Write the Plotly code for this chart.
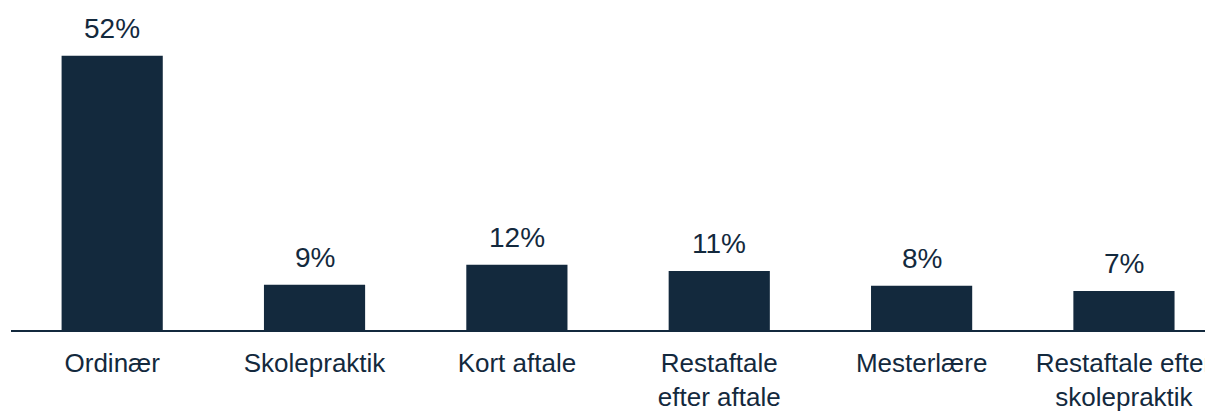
import plotly.graph_objects as go

categories = ["Ordinær", "Skolepraktik", "Kort aftale", "Restaftale<br>efter aftale",
              "Mesterlære", "Restaftale efter<br>skolepraktik"]
values = [52.0, 8.6, 12.4, 11.2, 8.4, 7.4]
labels = ["52%", "9%", "12%", "11%", "8%", "7%"]

navy = "#13293d"
font_family = "Liberation Sans, Arial, sans-serif"

fig = go.Figure()
fig.add_trace(go.Bar(
    x=list(range(len(categories))), y=values, width=0.5,
    marker=dict(color=navy, line=dict(width=0)),
    hoverinfo="skip",
))

for i, (v, t) in enumerate(zip(values, labels)):
    fig.add_annotation(x=i, y=v, text=t, showarrow=False, yanchor="bottom",
                       yshift=10, font=dict(family=font_family, size=28, color=navy))

fig.update_layout(
    width=1205, height=404,
    margin=dict(l=3, r=0, t=2, b=74),
    plot_bgcolor="white", paper_bgcolor="white",
    showlegend=False,
    font=dict(family=font_family, color=navy),
    xaxis=dict(
        tickmode="array", tickvals=list(range(len(categories))), ticktext=categories,
        range=[-0.5, 5.44], showgrid=False, zeroline=False,
        showline=True, linecolor=navy, linewidth=2,
        ticks="", tickfont=dict(family=font_family, size=26, color=navy),
        ticklabelstandoff=9,
    ),
    yaxis=dict(range=[0, 60.7], visible=False, showgrid=False, zeroline=False),
)

fig.write_html("out.html")
